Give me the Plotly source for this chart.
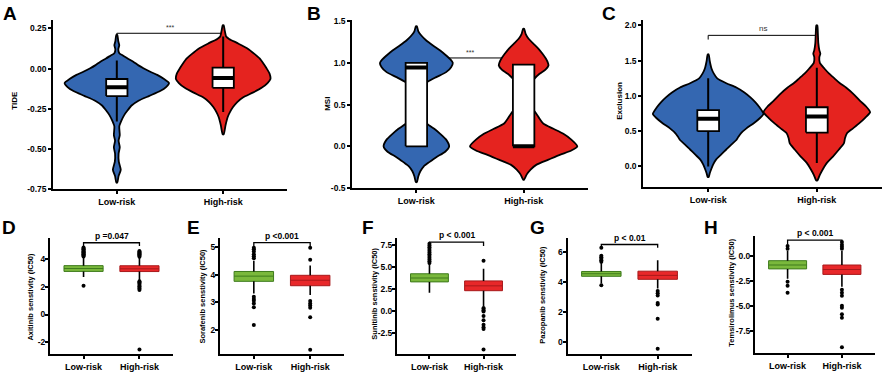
import plotly.graph_objects as go

W, H = 886, 375
groups = ["Low-risk", "High-risk"]
BLUE = "#3467B1"
RED = "#E5231F"
GREEN_FILL = "#7AB83C"
GREEN_LINE = "#3E7B1C"
RED_FILL = "#E8282A"
RED_LINE = "#A8191B"
FONT = "Liberation Sans"

# ---------------- top row: violin density profiles (value, relative width) ----
tide_low_y = [0.21, 0.17, 0.146, 0.12, 0.095, 0.083, 0.063, 0.043, 0.02, 0.002, -0.02, -0.039, -0.065,
              -0.09, -0.115, -0.14, -0.17, -0.20, -0.23, -0.26, -0.29, -0.32, -0.36, -0.415, -0.45,
              -0.49, -0.53, -0.58, -0.63, -0.67, -0.71]
tide_low_d = [0.5, 1.5, 2.5, 1.5, 2.5, 5.8, 11, 16.7, 22, 27, 34, 41, 48,
              53, 50, 44, 33, 22, 15, 11, 7.5, 5, 2.5, 3, 1.8,
              3, 1.8, 2, 4, 1.8, 0.5]
tide_high_y = [0.27, 0.24, 0.20, 0.185, 0.16, 0.124, 0.09, 0.063, 0.03, 0.002, -0.03, -0.065, -0.09,
               -0.12, -0.15, -0.18, -0.21, -0.24, -0.27, -0.30, -0.35, -0.41]
tide_high_d = [0.5, 1.5, 3, 6, 14, 25, 32, 37, 41, 44, 47, 48, 45,
               39, 30, 20, 14, 10, 7, 4.7, 2.5, 0.5]

msi_low_y = [1.44, 1.38, 1.33, 1.27, 1.21, 1.15, 1.09, 1.04, 1.0, 0.95, 0.89, 0.83, 0.77, 0.70, 0.6,
             0.5, 0.4, 0.33, 0.27, 0.21, 0.15, 0.08, 0.0, -0.065, -0.13, -0.19, -0.24, -0.3, -0.36, -0.43]
msi_low_d = [0.5, 2, 5, 10, 16.7, 24, 30, 34.5, 36.7, 35, 30, 20, 11, 6, 3,
             3, 5, 8, 11, 18, 24, 30, 33, 29, 20, 13, 7.5, 4, 2, 0.5]
msi_high_y = [1.41, 1.35, 1.29, 1.23, 1.17, 1.11, 1.05, 1.0, 0.97, 0.92, 0.87, 0.8, 0.7, 0.6, 0.5,
              0.42, 0.35, 0.27, 0.21, 0.15, 0.08, 0.0, -0.05, -0.1, -0.16, -0.22, -0.28, -0.34, -0.40]
msi_high_d = [0.5, 2, 5, 10, 15, 19, 22.5, 24.5, 25, 22, 16, 10, 5, 4, 5,
              11, 15, 20, 30, 40, 48, 54, 48, 37, 25, 13, 7, 3, 0.5]

excl_low_y = [1.59, 1.50, 1.39, 1.32, 1.25, 1.18, 1.12, 1.05, 0.98, 0.91, 0.84, 0.745, 0.68, 0.61,
              0.54, 0.47, 0.42, 0.375, 0.31, 0.24, 0.17, 0.1, 0.03, -0.04, -0.1, -0.15]
excl_low_d = [0.5, 1.5, 3.3, 5.5, 9, 18, 28, 36, 42, 47, 51, 55, 51, 45,
              38, 32.5, 30, 28, 23, 18, 13, 8, 5, 3, 1.5, 0.5]
excl_high_y = [2.0, 1.9, 1.75, 1.65, 1.6, 1.55, 1.47, 1.39, 1.32, 1.25, 1.18, 1.12, 1.02, 0.93, 0.85,
               0.77, 0.69, 0.61, 0.54, 0.47, 0.40, 0.33, 0.24, 0.14, 0.05, -0.04, -0.12, -0.2]
excl_high_d = [0.5, 1, 1.5, 2.5, 3.5, 2.5, 3, 7.5, 12, 17.5, 23, 29, 37, 43, 49,
               53, 48, 42, 36, 30, 28, 27, 22, 16, 10, 6, 3, 0.5]

# inner box stats: [lower whisker, q1, median, q3, upper whisker]
tide_box_low = [-0.33, -0.171, -0.116, -0.065, 0.05]
tide_box_high = [-0.27, -0.12, -0.059, 0.006, 0.20]
msi_box_low = [0.0, 0.0, 0.945, 1.0, 1.0]
msi_box_high = [0.0, 0.0, 0.0, 0.98, 0.98]
excl_box_low = [0.0, 0.50, 0.676, 0.80, 1.25]
excl_box_high = [0.05, 0.48, 0.71, 0.84, 1.40]

# ---------------- bottom row: boxplot stats + outliers ----
axitinib_low = [2.72, 3.13, 3.34, 3.55, 4.18]
axitinib_high = [2.50, 3.12, 3.32, 3.54, 4.15]
axitinib_low_out = [4.22, 4.28, 4.33, 4.38, 4.42, 4.47, 4.52, 4.57, 4.62, 4.68, 4.74, 4.80, 4.86, 2.08]
axitinib_high_out = [4.20, 4.26, 4.32, 4.38, 4.44, 4.50, 4.56, 4.62, 2.42, 2.35, 2.25, 2.15, 2.05,
                     1.95, 1.87, 1.78, -2.54]

sorafenib_low = [3.32, 3.76, 3.95, 4.12, 4.51]
sorafenib_high = [3.26, 3.60, 3.80, 3.98, 4.34]
sorafenib_low_out = [4.60, 4.68, 4.75, 4.85, 4.93, 4.99, 3.20, 3.12, 3.05, 2.95, 2.81, 2.17]
sorafenib_high_out = [4.55, 4.99, 3.04, 2.95, 2.88, 2.80, 2.45, 1.26]

sunitinib_low = [2.03, 3.26, 3.70, 4.18, 5.29]
sunitinib_high = [0.48, 2.26, 2.81, 3.37, 4.74]
sunitinib_low_out = [5.4, 5.6, 5.8, 6.0, 6.2, 6.4, 6.6, 6.8, 7.0, 7.2, 7.4, 7.6]
sunitinib_high_out = [5.67, 0.30, 0.20, 0.05, -0.10, -0.60, -1.10, -1.60, -1.90, -2.10, -4.41]

pazopanib_low = [3.90, 4.38, 4.55, 4.70, 5.26]
pazopanib_high = [3.57, 4.18, 4.44, 4.72, 5.45]
pazopanib_low_out = [5.35, 5.45, 5.55, 5.65, 5.75, 6.28, 3.79]
pazopanib_high_out = [3.40, 3.25, 3.10, 2.60, 2.50, 1.56, -0.43]

temsirolimus_low = [-2.29, -1.31, -0.92, -0.49, 0.50]
temsirolimus_high = [-3.10, -1.86, -1.37, -0.92, 0.49]
temsirolimus_low_out = [0.70, 0.98, -2.60, -3.00, -3.69]
temsirolimus_high_out = [0.70, 0.90, 1.10, 1.37, -3.40, -3.70, -4.00, -5.00, -5.20, -5.85, -6.20, -9.14]

# ---------------- panel layout (pixel boxes: left, right, top, bottom) ----
panels = [
    dict(letter="A", box=(53, 287, 17, 190), yr=[-0.75, 0.305], ticks=[-0.75, -0.5, -0.25, 0, 0.25], fmt=".2f",
         title="TIDE", tx=15, ty=100, lx=1, ly=11, bar=(0.20, 0.22, 0.20), sig="***", lw=1.6),
    dict(letter="B", box=(352, 588, 17, 189), yr=[-0.5, 1.52], ticks=[-0.5, 0, 0.5, 1.0, 1.5], fmt=".1f",
         title="MSI", tx=328, ty=103, lx=305, ly=11, bar=(1.0, 1.06, 1.0), sig="***", lw=1.6),
    dict(letter="C", box=(643, 882, 17, 188), yr=[-0.292, 2.083], ticks=[0, 0.5, 1.0, 1.5, 2.0], fmt=".1f",
         title="Exclusion", tx=620, ty=100, lx=600, ly=11, bar=(1.80, 1.86, 1.80), sig="ns", lw=1.6),
    dict(letter="D", box=(50, 173, 240, 359), yr=[-2.893, 5.565], ticks=[-2, 0, 2, 4], fmt="d",
         title="Axitinib senstivity (IC50)", tx=31, ty=300, lx=0, ly=229, bar=(4.95, 5.21, 4.98), sig="p =0.047", lw=2),
    dict(letter="E", box=(220, 344, 240, 359), yr=[1.096, 5.346], ticks=[2, 3, 4, 5], fmt="d",
         title="Sorafenib senstivity (IC50)", tx=203, ty=300, lx=185, ly=229, bar=(5.05, 5.17, 5.05), sig="p <0.001", lw=2),
    dict(letter="F", box=(397, 516, 240, 359), yr=[-4.967, 8.256], ticks=[-2.5, 0, 2.5, 5.0, 7.5], fmt=".1f",
         title="Sunitinib senstivity (IC50)", tx=375, ty=297, lx=360, ly=229, bar=(7.33, 7.78, 7.33), sig="p < 0.001", lw=2),
    dict(letter="G", box=(567.5, 691.5, 240, 359), yr=[-0.80, 6.93], ticks=[0, 2, 4, 6], fmt="d",
         title="Pazopanib senstivity (IC50)", tx=543, ty=298, lx=528, ly=229, bar=(6.28, 6.49, 6.28), sig="p < 0.01", lw=2),
    dict(letter="H", box=(755, 874.5, 238.5, 357.5), yr=[-9.71, 1.94], ticks=[-7.5, -5.0, -2.5, 0.0], fmt=".1f",
         title="Temsirolimus senstivity (IC50)", tx=732, ty=296, lx=702, ly=229, bar=(1.14, 1.57, 1.14), sig="p < 0.001", lw=2),
]

VSCALE = 1.0 / 108.0  # relative density -> category units
INNER_HALF = 0.1      # half width of inner violin box (category units)

fig = go.Figure()
layout = dict(width=W, height=H, margin=dict(l=0, r=0, t=0, b=0), showlegend=False,
              paper_bgcolor="white", plot_bgcolor="white", annotations=[])


def axn(i):
    return ("x" if i == 1 else f"x{i}"), ("y" if i == 1 else f"y{i}")


def fmt_tick(v, f):
    if f == "d":
        return f"{int(round(v))}"
    return format(v, f)


for i, p in enumerate(panels, start=1):
    l, r, t, b = p["box"]
    top = i <= 3
    xk = "xaxis" if i == 1 else f"xaxis{i}"
    yk = "yaxis" if i == 1 else f"yaxis{i}"
    xa, ya = axn(i)
    layout[xk] = dict(domain=[l / W, r / W], range=[-0.6, 1.6], anchor=ya, tickvals=[0, 1], ticktext=groups,
                      showline=True, linecolor="black", linewidth=p["lw"], ticks="outside", ticklen=3,
                      tickwidth=p["lw"], tickcolor="black", showgrid=False, zeroline=False,
                      tickfont=dict(family=FONT, size=9, color="black", weight="bold"), fixedrange=True)
    layout[yk] = dict(domain=[1 - b / H, 1 - t / H], range=p["yr"], anchor=xa, tickvals=p["ticks"],
                      ticktext=[fmt_tick(v, p["fmt"]) for v in p["ticks"]],
                      showline=True, linecolor="black", linewidth=p["lw"], ticks="outside", ticklen=3,
                      tickwidth=p["lw"], tickcolor="black", showgrid=False, zeroline=False,
                      ticklabelstandoff=0 if top else -2,
                      tickfont=dict(family=FONT, size=8.5, color="black", weight="bold"), fixedrange=True)
    layout["annotations"].append(dict(text=p["letter"], x=p["lx"] / W, y=1 - p["ly"] / H, xref="paper", yref="paper",
                                      xanchor="left", yanchor="middle", showarrow=False,
                                      font=dict(family=FONT, size=19, color="black", weight="bold")))
    layout["annotations"].append(dict(text=p["title"], x=p["tx"] / W, y=1 - p["ty"] / H, xref="paper", yref="paper",
                                      xanchor="center", yanchor="middle", showarrow=False, textangle=-90,
                                      font=dict(family=FONT, size=8 if top else 7.5, color="black", weight="bold")))
    y0, yb, y1 = p["bar"]
    fig.add_trace(go.Scatter(x=[0, 0, 1, 1], y=[y0, yb, yb, y1], mode="lines",
                             line=dict(color="black", width=1 if top else 1.3), xaxis=xa, yaxis=ya, hoverinfo="skip"))
    if top:
        sfont = dict(family=FONT, size=7 if p["sig"] == "***" else 8, color="#333333")
    else:
        sfont = dict(family=FONT, size=8.5, color="black", weight="bold")
    layout["annotations"].append(dict(text=p["sig"], x=0.5, y=yb, xref=xa, yref=ya, xanchor="center",
                                      yanchor="bottom", showarrow=False, font=sfont, yshift=0))


def add_violin(i, idx, ys, ds, color):
    xa, ya = axn(i)
    xs = [idx - d * VSCALE for d in ds] + [idx + d * VSCALE for d in reversed(ds)]
    yy = list(ys) + list(reversed(ys))
    xs.append(xs[0])
    yy.append(yy[0])
    fig.add_trace(go.Scatter(x=xs, y=yy, mode="lines", fill="toself", fillcolor=color,
                             line=dict(color="black", width=1.8, shape="spline", smoothing=0.6),
                             xaxis=xa, yaxis=ya, hoverinfo="skip"))


def add_inner_box(i, idx, st):
    xa, ya = axn(i)
    lf, q1, med, q3, uf = st
    fig.add_trace(go.Scatter(x=[idx, idx, None, idx, idx], y=[q3, uf, None, q1, lf], mode="lines",
                             line=dict(color="black", width=2), xaxis=xa, yaxis=ya, hoverinfo="skip"))
    a, c = idx - INNER_HALF, idx + INNER_HALF
    fig.add_trace(go.Scatter(x=[a, c, c, a, a], y=[q1, q1, q3, q3, q1], mode="lines", fill="toself",
                             fillcolor="white", line=dict(color="black", width=1.8),
                             xaxis=xa, yaxis=ya, hoverinfo="skip"))
    fig.add_trace(go.Scatter(x=[a, c], y=[med, med], mode="lines",
                             line=dict(color="black", width=4), xaxis=xa, yaxis=ya, hoverinfo="skip"))


def add_box(i, idx, st, outs, fill, edge):
    xa, ya = axn(i)
    lf, q1, med, q3, uf = st
    fig.add_trace(go.Box(x=[idx], q1=[q1], median=[med], q3=[q3], lowerfence=[q1], upperfence=[q3],
                         width=0.7, fillcolor=fill, line=dict(color=edge, width=1),
                         boxpoints=False, whiskerwidth=0, xaxis=xa, yaxis=ya, hoverinfo="skip"))
    fig.add_trace(go.Scatter(x=[idx, idx, None, idx, idx], y=[q3, uf, None, q1, lf], mode="lines",
                             line=dict(color="black", width=1.6), xaxis=xa, yaxis=ya, hoverinfo="skip"))
    fig.add_trace(go.Scatter(x=[idx] * len(outs), y=outs, mode="markers",
                             marker=dict(color="black", size=4), xaxis=xa, yaxis=ya, hoverinfo="skip"))


add_violin(1, 0, tide_low_y, tide_low_d, BLUE)
add_violin(1, 1, tide_high_y, tide_high_d, RED)
add_inner_box(1, 0, tide_box_low)
add_inner_box(1, 1, tide_box_high)

add_violin(2, 0, msi_low_y, msi_low_d, BLUE)
add_violin(2, 1, msi_high_y, msi_high_d, RED)
add_inner_box(2, 0, msi_box_low)
add_inner_box(2, 1, msi_box_high)

add_violin(3, 0, excl_low_y, excl_low_d, BLUE)
add_violin(3, 1, excl_high_y, excl_high_d, RED)
add_inner_box(3, 0, excl_box_low)
add_inner_box(3, 1, excl_box_high)

bottom = [
    (4, axitinib_low, axitinib_low_out, axitinib_high, axitinib_high_out),
    (5, sorafenib_low, sorafenib_low_out, sorafenib_high, sorafenib_high_out),
    (6, sunitinib_low, sunitinib_low_out, sunitinib_high, sunitinib_high_out),
    (7, pazopanib_low, pazopanib_low_out, pazopanib_high, pazopanib_high_out),
    (8, temsirolimus_low, temsirolimus_low_out, temsirolimus_high, temsirolimus_high_out),
]
for i, lo, lo_out, hi, hi_out in bottom:
    add_box(i, 0, lo, lo_out, GREEN_FILL, GREEN_LINE)
    add_box(i, 1, hi, hi_out, RED_FILL, RED_LINE)

fig.update_layout(**layout)
fig.update_layout(boxmode="overlay")
fig.write_html("out.html", config={"displayModeBar": False},
               post_script="document.body.style.margin='0';document.body.style.overflow='hidden';")
